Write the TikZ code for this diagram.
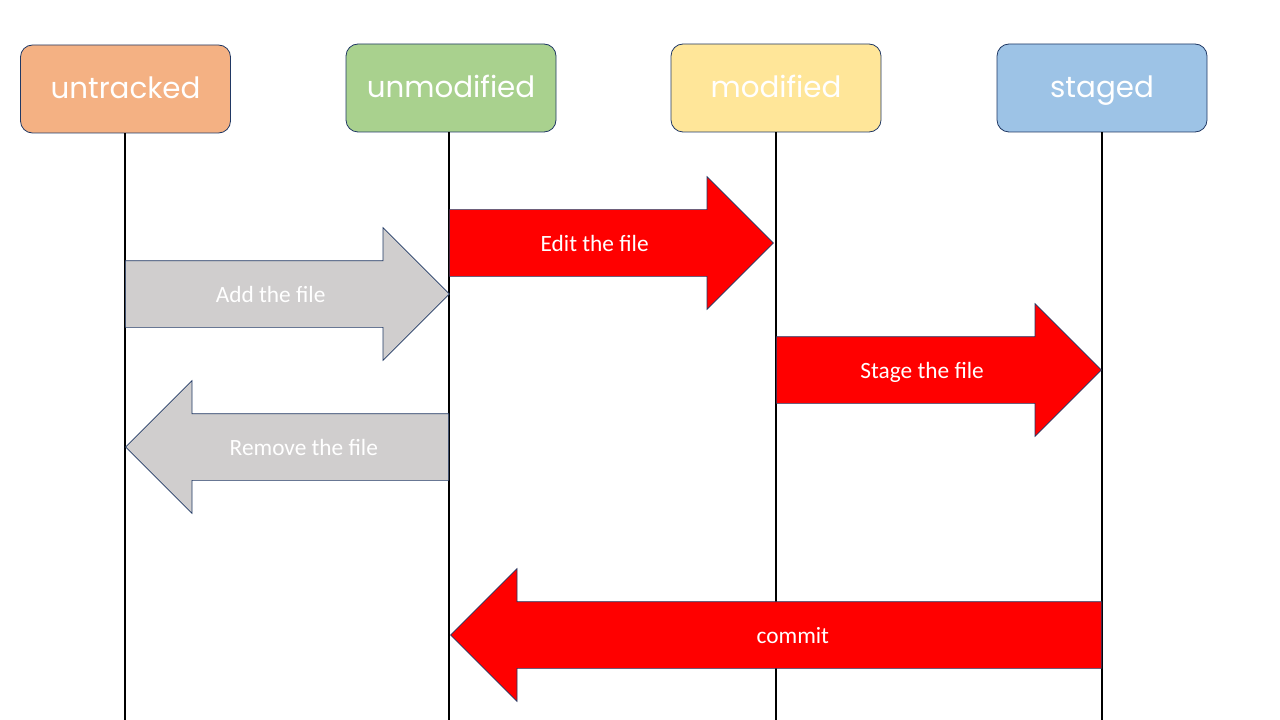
\documentclass[tikz,border=0pt]{standalone}
\usepackage{fontspec}
\setmainfont{Carlito}
\newfontfamily\statefont{Poppins}
\usetikzlibrary{shapes.arrows}
\definecolor{untrackedcol}{HTML}{F4B183}
\definecolor{unmodifiedcol}{HTML}{A9D18E}
\definecolor{modifiedcol}{HTML}{FFE699}
\definecolor{stagedcol}{HTML}{9DC3E6}
\definecolor{greycol}{HTML}{D0CECE}
\definecolor{edgecol}{HTML}{203864}
\tikzstyle{state} = [rectangle, rounded corners=9pt, draw=edgecol, line width=0.6pt,
    minimum width=157.5pt, minimum height=66pt, text height=15pt, text depth=0pt,
    text=white, font=\statefont\fontsize{22}{26}\selectfont]
\tikzstyle{lifeline} = [draw=black, line width=1.5pt]
\tikzstyle{action} = [single arrow, draw=edgecol, line width=0.5pt, text=white,
    single arrow head extend=24.75pt, inner ysep=0pt, inner xsep=0pt,
    text height=31pt, text depth=18.5pt, font=\fontsize{17.5}{20}\selectfont]

\begin{document}
\begin{tikzpicture}[x=0.75pt, y=-0.75pt]
        \useasboundingbox (0,0) rectangle (1280,720);

        \node[state, fill=untrackedcol] (untracked) at (125.5,89) {untracked};
        \node[state, fill=unmodifiedcol] (unmodified) at (451,88) {unmodified};
        \node[state, fill=modifiedcol] (modified) at (776,88) {modified};
        \node[state, fill=stagedcol] (staged) at (1102,88) {staged};

        \coordinate (untrackedend) at (125,720);
        \coordinate (unmodifiedend) at (449,720);
        \coordinate (modifiedend) at (776,720);
        \coordinate (stagedend) at (1102,720);
        \draw[lifeline] (untrackedend |- untracked.south) -- (untrackedend);
        \draw[lifeline] (unmodifiedend |- unmodified.south) -- (unmodifiedend);
        \draw[lifeline] (modifiedend |- modified.south) -- (modifiedend);
        \draw[lifeline] (stagedend |- staged.south) -- (stagedend);

        \node[action, fill=greycol, minimum height=243pt, anchor=tail] (add) at (125,294) {Add the file};
        \node[action, fill=red, minimum height=243pt, anchor=tail] (edit) at (449,243) {Edit the file};
        \node[action, fill=red, minimum height=243.75pt, anchor=tail] (stage) at (776,370) {Stage the file};
        \node[action, fill=greycol, minimum height=242.25pt, shape border rotate=180, anchor=tail] (remove) at (449,447) {Remove the file};
        \node[action, fill=red, minimum height=488.25pt, shape border rotate=180, anchor=tail] (commit) at (1102,635) {commit};
    \end{tikzpicture}
\end{document}
